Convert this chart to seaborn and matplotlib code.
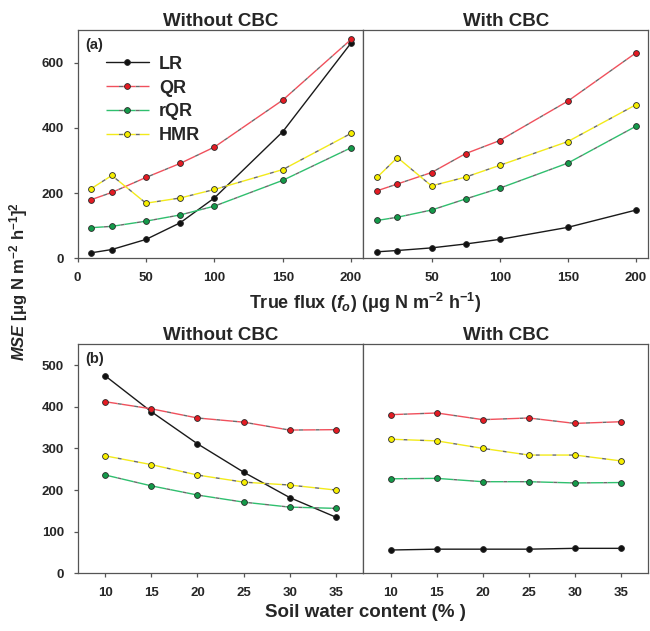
import numpy as np
import pandas as pd
import matplotlib
matplotlib.use("Agg")
import matplotlib.pyplot as plt
import seaborn as sns

# ---- data -------------------------------------------------------------
methods = ["LR", "QR", "rQR", "HMR"]

flux = [10, 25, 50, 75, 100, 150, 200]
flux_wo = {
    "LR":  [17, 27, 58, 109, 185, 388, 660],
    "QR":  [180, 202, 248, 291, 341, 485, 671],
    "rQR": [94, 98, 114, 133, 160, 239, 339],
    "HMR": [214, 254, 169, 185, 211, 272, 383],
}
flux_w = {
    "LR":  [20, 24, 32, 44, 58, 95, 148],
    "QR":  [207, 228, 263, 321, 361, 482, 630],
    "rQR": [116, 126, 148, 182, 215, 292, 405],
    "HMR": [248, 309, 222, 249, 285, 358, 471],
}

swc = [10, 15, 20, 25, 30, 35]
swc_wo = {
    "LR":  [474, 388, 311, 243, 182, 135],
    "QR":  [412, 395, 373, 363, 344, 345],
    "rQR": [236, 210, 188, 171, 159, 156],
    "HMR": [282, 261, 236, 219, 212, 200],
}
swc_w = {
    "LR":  [56, 58, 58, 58, 60, 60],
    "QR":  [381, 385, 369, 373, 360, 364],
    "rQR": [227, 228, 220, 220, 217, 218],
    "HMR": [322, 318, 300, 284, 284, 270],
}

line_colors = {"LR": "#1a1a1a", "QR": "#f0505c", "rQR": "#2fbf6e", "HMR": "#f2ea1a"}
face_colors = {"LR": "#111111", "QR": "#e41b23", "rQR": "#149a4a", "HMR": "#f7ee00"}

# ---- style ------------------------------------------------------------
sns.set_style("ticks")
plt.rcParams["font.family"] = ["Liberation Sans", "DejaVu Sans"]
plt.rcParams["font.weight"] = "bold"
plt.rcParams["axes.labelweight"] = "bold"
plt.rcParams["mathtext.fontset"] = "custom"
plt.rcParams["mathtext.rm"] = "Liberation Sans:bold"
plt.rcParams["mathtext.it"] = "Liberation Sans:italic:bold"
plt.rcParams["mathtext.bf"] = "Liberation Sans:bold"
plt.rcParams["mathtext.default"] = "rm"

fig = plt.figure(figsize=(6.5, 6.31), dpi=100)

L, M, R = 0.1195, 0.559, 0.9974
top_b, top_t = 0.5906, 0.9525
bot_b, bot_t = 0.0914, 0.4544

ax_tl = fig.add_axes([L, top_b, M - L, top_t - top_b])
ax_tr = fig.add_axes([M, top_b, R - M, top_t - top_b])
ax_bl = fig.add_axes([L, bot_b, M - L, bot_t - bot_b])
ax_br = fig.add_axes([M, bot_b, R - M, bot_t - bot_b])


def draw(ax, xs, table):
    for m in methods:
        df = pd.DataFrame({"x": xs, "y": table[m]})
        kw = {}
        if m != "LR":
            kw = dict(linestyle=(0, (9, 3)), gapcolor="#6a6a6a")
        sns.lineplot(data=df, x="x", y="y", ax=ax, color=line_colors[m],
                     linewidth=1.0, marker="o", markersize=4.2,
                     markerfacecolor=face_colors[m], markeredgecolor="#2a2a2a",
                     markeredgewidth=0.6, label=m, legend=False, **kw)
    ax.set_xlabel("")
    ax.set_ylabel("")
    for s in ax.spines.values():
        s.set_visible(True)
        s.set_color("#555555")
        s.set_linewidth(0.9)
    ax.tick_params(axis="both", direction="out", length=3, width=0.9,
                   color="#555555", labelsize=9.5, pad=7,
                   bottom=True, left=True)


draw(ax_tl, flux, flux_wo)
draw(ax_tr, flux, flux_w)
draw(ax_bl, swc, swc_wo)
draw(ax_br, swc, swc_w)

for ax in (ax_tl, ax_tr):
    ax.set_xlim(0, 209)
    ax.set_ylim(0, 700)
ax_tl.set_xticks([0, 50, 100, 150, 200])
ax_tl.set_yticks([0, 200, 400, 600])
ax_tr.set_xticks([50, 100, 150, 200])

for ax in (ax_bl, ax_br):
    ax.set_xlim(7, 38)
    ax.set_ylim(0, 550)
    ax.set_xticks([10, 15, 20, 25, 30, 35])
ax_bl.set_yticks([0, 100, 200, 300, 400, 500])

for ax in (ax_tr, ax_br):
    ax.set_yticks([])
    ax.tick_params(axis="y", length=0)

for ax in (ax_tl, ax_tr, ax_bl, ax_br):
    for lab in ax.get_xticklabels() + ax.get_yticklabels():
        lab.set_fontweight("bold")
        lab.set_fontsize(9.5)

# panel titles
title_kw = dict(fontsize=13.5, fontweight="bold", pad=3)
ax_tl.set_title("Without CBC", **title_kw)
ax_tr.set_title("With CBC", **title_kw)
ax_bl.set_title("Without CBC", **title_kw)
ax_br.set_title("With CBC", **title_kw)

ax_tl.text(0.025, 0.965, "(a)", transform=ax_tl.transAxes, ha="left", va="top",
           fontsize=10.5, fontweight="bold")
ax_bl.text(0.025, 0.965, "(b)", transform=ax_bl.transAxes, ha="left", va="top",
           fontsize=10.5, fontweight="bold")

# legend
handles = ax_tl.get_lines()[:4]
leg = ax_tl.legend(handles=handles, labels=methods, loc="upper left",
                   bbox_to_anchor=(0.06, 0.935), frameon=False,
                   prop={"size": 13, "weight": "bold"}, handlelength=2.4,
                   labelspacing=0.38, handletextpad=0.55, borderaxespad=0.2)

# axis labels
fig.text(0.5625, 0.52, r"True flux ($\mathit{f_o}$) (μg N m$^{-2}$ h$^{-1}$)",
         ha="center", va="center", fontsize=13, fontweight="bold")
fig.text(0.5625, 0.030, "Soil water content (% )",
         ha="center", va="center", fontsize=13.5, fontweight="bold")
fig.text(0.028, 0.553, r"$\mathit{MSE}$ [μg N m$^{-2}$ h$^{-1}$]$^2$",
         ha="center", va="center", rotation=90, fontsize=12, fontweight="bold")

fig.savefig("out.png", dpi=100, facecolor="white")
